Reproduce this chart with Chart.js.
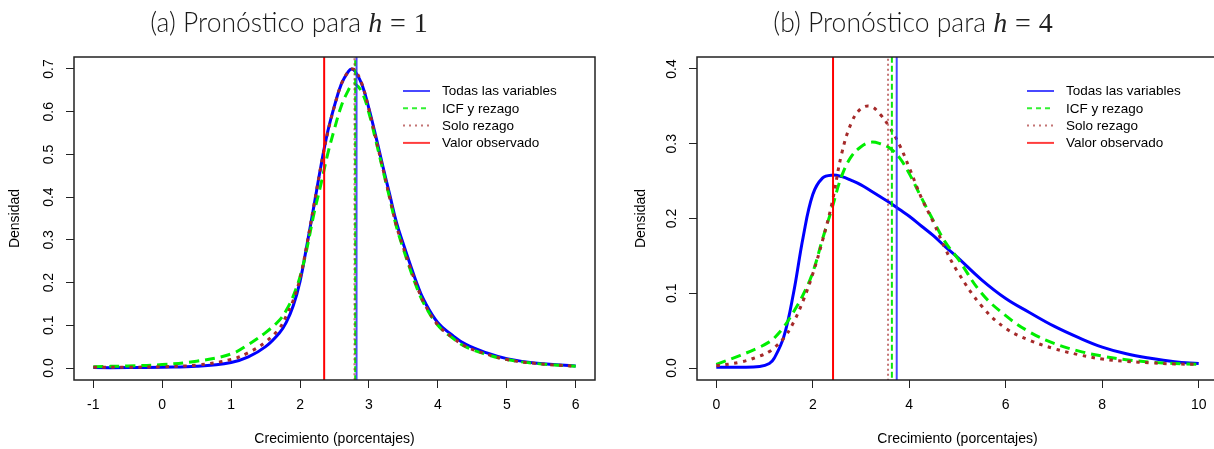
<!DOCTYPE html>
<html>
<head>
<meta charset="utf-8">
<script src="https://cdn.jsdelivr.net/npm/chart.js@4.4.1/dist/chart.umd.min.js"></script>
<style>
  html, body { margin:0; padding:0; background:#fff; }
  body { width:1214px; height:449px; overflow:hidden; position:relative; }
  .wrap { position:absolute; top:0; height:449px; }
  #wa { left:0; width:607px; }
  #wb { left:607px; width:620px; }
  .title { position:absolute; top:5px; font-family:Lato, "Open Sans", sans-serif; font-size:26.5px; line-height:34px;
           color:#1a1a1a; white-space:nowrap; transform:translateX(-50%); font-weight:300; }
  .title .m { font-family:"Liberation Serif", "DejaVu Serif", serif; font-size:28px; font-weight:400; color:#222; }
  .title .mi { font-style:italic; }
  .title .op { margin:0 0.28em; }
</style>
</head>
<body>
<div class="wrap" id="wa"><canvas id="ca" width="607" height="449"></canvas></div>
<div class="wrap" id="wb"><canvas id="cb" width="620" height="449"></canvas></div>
<div class="title" style="left:289px">(a) Pronóstico para <span class="m mi">h</span><span class="m op">=</span><span class="m">1</span></div>
<div class="title" style="left:913px">(b) Pronóstico para <span class="m mi">h</span><span class="m op">=</span><span class="m">4</span></div>
<script>
// ---------- Data: panel (a) h = 1 ----------
const xA = [-1, -0.5, 0, 0.5, 1, 1.25, 1.5, 1.7, 1.8, 1.9, 2.0, 2.1, 2.2, 2.3, 2.4, 2.5, 2.6, 2.7, 2.75, 2.8, 2.9, 3.0, 3.1, 3.2, 3.3, 3.4, 3.5, 3.6, 3.7, 3.8, 4.0, 4.2, 4.4, 4.7, 5.0, 5.4, 6.0];
const todasA = [0.001, 0.001, 0.002, 0.004, 0.013, 0.026, 0.050, 0.082, 0.107, 0.145, 0.203, 0.288, 0.378, 0.470, 0.552, 0.614, 0.665, 0.694, 0.700, 0.694, 0.663, 0.607, 0.542, 0.473, 0.407, 0.340, 0.290, 0.242, 0.196, 0.158, 0.106, 0.078, 0.056, 0.036, 0.022, 0.012, 0.005];
const icfA   = [0.003, 0.005, 0.008, 0.016, 0.033, 0.055, 0.083, 0.112, 0.135, 0.168, 0.214, 0.280, 0.360, 0.428, 0.500, 0.560, 0.614, 0.650, 0.662, 0.665, 0.645, 0.597, 0.532, 0.465, 0.398, 0.330, 0.278, 0.230, 0.186, 0.150, 0.100, 0.072, 0.050, 0.032, 0.020, 0.011, 0.004];
const soloA  = [0.002, 0.002, 0.003, 0.007, 0.020, 0.036, 0.061, 0.093, 0.122, 0.158, 0.210, 0.290, 0.380, 0.470, 0.550, 0.613, 0.665, 0.694, 0.700, 0.697, 0.664, 0.605, 0.537, 0.468, 0.400, 0.332, 0.282, 0.235, 0.190, 0.152, 0.101, 0.073, 0.051, 0.033, 0.020, 0.011, 0.004];
const observadoA = 2.35;
const mediasA = [2.82, 2.80, 2.79];          // Todas, ICF, Solo
const xTicksA = [-1, 0, 1, 2, 3, 4, 5, 6];
const yTicksA = [0, 0.1, 0.2, 0.3, 0.4, 0.5, 0.6, 0.7];

// ---------- Data: panel (b) h = 4 ----------
const xB = [0, 0.5, 0.9, 1.1, 1.2, 1.4, 1.6, 1.8, 2.0, 2.2, 2.4, 2.6, 2.8, 3.0, 3.2, 3.4, 3.6, 3.8, 4.0, 4.25, 4.5, 4.75, 5.0, 5.5, 6.0, 6.5, 7.0, 7.5, 8.0, 8.5, 9.0, 9.5, 10.0];
const todasB = [0.001, 0.001, 0.002, 0.006, 0.013, 0.042, 0.100, 0.175, 0.232, 0.254, 0.258, 0.256, 0.251, 0.245, 0.237, 0.229, 0.221, 0.212, 0.203, 0.190, 0.177, 0.162, 0.148, 0.118, 0.093, 0.074, 0.056, 0.041, 0.028, 0.019, 0.013, 0.0085, 0.006];
const icfB   = [0.005, 0.017, 0.028, 0.035, 0.040, 0.055, 0.075, 0.098, 0.128, 0.172, 0.214, 0.257, 0.283, 0.296, 0.302, 0.300, 0.294, 0.281, 0.260, 0.228, 0.197, 0.168, 0.147, 0.100, 0.070, 0.048, 0.033, 0.023, 0.016, 0.011, 0.008, 0.006, 0.005];
const soloB  = [0.003, 0.008, 0.016, 0.022, 0.027, 0.040, 0.061, 0.090, 0.126, 0.170, 0.221, 0.287, 0.328, 0.347, 0.350, 0.339, 0.321, 0.298, 0.268, 0.228, 0.195, 0.159, 0.129, 0.083, 0.053, 0.037, 0.026, 0.018, 0.012, 0.009, 0.007, 0.0055, 0.005];
const observadoB = 2.42;
const mediasB = [3.74, 3.64, 3.56];
const xTicksB = [0, 2, 4, 6, 8, 10];
const yTicksB = [0, 0.1, 0.2, 0.3, 0.4];

const seriesNames = ['Todas las variables', 'ICF y rezago', 'Solo rezago', 'Valor observado'];
const xTitle = 'Crecimiento (porcentajes)';
const yTitle = 'Densidad';

// ---------- styles ----------
const curveStyle = [
  { color: '#0000ff', dash: [], width: 3, order: 7 },
  { color: '#00ee00', dash: [10, 6], width: 3, order: 6 },
  { color: '#a52a2a', dash: [3.5, 5.5], width: 3, order: 5 }
];
const vlineStyle = [
  { color: 'rgba(40,40,255,0.85)', dash: [], width: 2 },
  { color: 'rgba(0,230,0,0.95)', dash: [6, 3], width: 2 },
  { color: 'rgba(165,42,42,0.65)', dash: [2, 3], width: 2 },
  { color: '#ff0000', dash: [], width: 2 }
];
const legendStyle = [
  { color: 'rgba(40,40,255,0.85)', dash: [] },
  { color: 'rgba(40,240,40,0.95)', dash: [5, 4] },
  { color: 'rgba(165,42,42,0.65)', dash: [2, 4] },
  { color: 'rgba(255,40,40,0.9)', dash: [] }
];

const FONT = 'Arial, "Liberation Sans", sans-serif';

const boxPlugin = {
  id: 'box',
  afterDraw(chart) {
    const { ctx, chartArea: a } = chart;
    ctx.save();
    ctx.strokeStyle = '#222';
    ctx.lineWidth = 1.5;
    ctx.setLineDash([]);
    ctx.strokeRect(a.left, a.top, a.right - a.left, a.bottom - a.top);
    ctx.restore();
  }
};

const legendPlugin = {
  id: 'rlegend',
  afterDraw(chart, args, opts) {
    const { ctx, chartArea: a } = chart;
    ctx.save();
    ctx.font = '13.5px ' + FONT;
    ctx.textBaseline = 'middle';
    ctx.fillStyle = '#000';
    seriesNames.forEach((name, i) => {
      const y = a.top + 34 + i * 17.3;
      const x0 = a.left + opts.dx;
      ctx.beginPath();
      ctx.strokeStyle = legendStyle[i].color;
      ctx.lineWidth = 2;
      ctx.setLineDash(legendStyle[i].dash);
      ctx.moveTo(x0, y);
      ctx.lineTo(x0 + 27, y);
      ctx.stroke();
      ctx.setLineDash([]);
      ctx.fillText(name, x0 + 39, y + 0.5);
    });
    ctx.restore();
  }
};

function buildChart(canvasId, cfg) {
  const curves = [cfg.todas, cfg.icf, cfg.solo].map((ys, i) => ({
    label: seriesNames[i],
    data: cfg.xs.map((x, j) => ({ x: x, y: ys[j] })),
    borderColor: curveStyle[i].color,
    borderDash: curveStyle[i].dash,
    borderWidth: curveStyle[i].width,
    tension: 0.4,
    pointRadius: 0,
    fill: false,
    order: curveStyle[i].order
  }));
  const vvals = [cfg.medias[0], cfg.medias[1], cfg.medias[2], cfg.obs];
  const vlines = vvals.map((v, i) => ({
    label: 'v' + i,
    data: [{ x: v, y: -1 }, { x: v, y: 2 }],
    borderColor: vlineStyle[i].color,
    borderDash: vlineStyle[i].dash,
    borderWidth: vlineStyle[i].width,
    pointRadius: 0,
    tension: 0,
    fill: false,
    order: 3 - i
  }));
  return new Chart(document.getElementById(canvasId), {
    type: 'line',
    data: { datasets: curves.concat(vlines) },
    plugins: [boxPlugin, legendPlugin],
    options: {
      responsive: false,
      animation: false,
      events: [],
      layout: { padding: { top: 57, right: cfg.padRight, bottom: 0, left: 0 } },
      plugins: {
        legend: { display: false },
        tooltip: { enabled: false },
        rlegend: { dx: cfg.legendDx }
      },
      scales: {
        x: {
          type: 'linear',
          min: cfg.xMin, max: cfg.xMax,
          afterBuildTicks: s => { s.ticks = cfg.xTicks.map(v => ({ value: v })); },
          afterFit: s => { s.height = 69; },
          grid: { display: true, drawOnChartArea: false, drawTicks: true, tickLength: 8, color: '#222', lineWidth: 1 },
          border: { display: false },
          ticks: { color: '#000', font: { family: FONT, size: 14 }, padding: 9, maxRotation: 0, autoSkip: false,
                   callback: v => String(v) },
          title: { display: true, text: xTitle, color: '#000', font: { family: FONT, size: 14 }, padding: { top: 0, bottom: 1 } }
        },
        y: {
          type: 'linear',
          min: cfg.yMin, max: cfg.yMax,
          afterBuildTicks: s => { s.ticks = cfg.yTicks.map(v => ({ value: v })); },
          afterFit: s => { s.width = cfg.yAxisWidth; },
          grid: { display: true, drawOnChartArea: false, drawTicks: true, tickLength: 8, color: '#222', lineWidth: 1 },
          border: { display: false },
          ticks: { color: '#000', font: { family: FONT, size: 14 }, padding: 7, minRotation: 90, maxRotation: 90,
                   crossAlign: 'center', autoSkip: false, callback: v => v.toFixed(1) },
          title: { display: true, text: yTitle, color: '#000', font: { family: FONT, size: 14 }, padding: { top: cfg.yTitlePad, bottom: 0 } }
        }
      }
    }
  });
}

buildChart('ca', {
  xs: xA, todas: todasA, icf: icfA, solo: soloA, obs: observadoA, medias: mediasA,
  xTicks: xTicksA, yTicks: yTicksA, xMin: -1.28, xMax: 6.28, yMin: -0.028, yMax: 0.728,
  padRight: 12, yAxisWidth: 74, yTitlePad: 7, legendDx: 329
});
buildChart('cb', {
  xs: xB, todas: todasB, icf: icfB, solo: soloB, obs: observadoB, medias: mediasB,
  xTicks: xTicksB, yTicks: yTicksB, xMin: -0.4, xMax: 10.4, yMin: -0.016, yMax: 0.416,
  padRight: 9, yAxisWidth: 90, yTitlePad: 26, legendDx: 330
});
</script>
</body>
</html>
